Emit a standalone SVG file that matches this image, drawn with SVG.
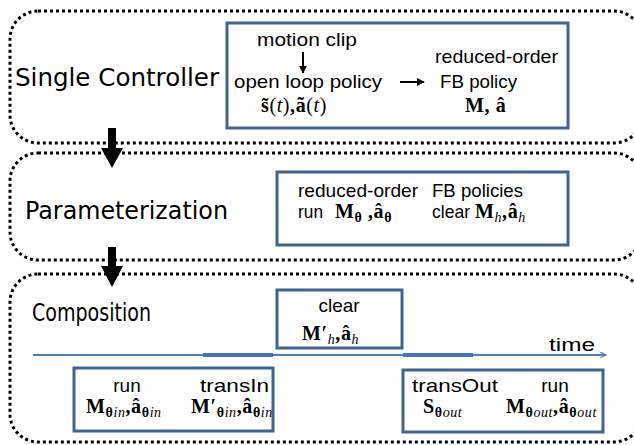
<svg xmlns="http://www.w3.org/2000/svg" width="634" height="445" viewBox="0 0 634 445">
<style>
.panel{fill:none;stroke:#000;stroke-width:3;stroke-dasharray:3 3}
.box{fill:#fff;stroke:#42648F;stroke-width:3}
.big{font-family:"DejaVu Sans",Verdana,sans-serif;font-size:24px;fill:#000}
.t{font-family:"Liberation Sans",Arial,sans-serif;font-size:19px;fill:#000}
.m{font-family:"Liberation Serif","Times New Roman",serif;font-size:20px;font-weight:bold;fill:#000;letter-spacing:0.6px}
.n{font-weight:normal}
.i{font-style:italic;font-weight:normal}
.s{font-size:14px}
.flow{stroke:#000;stroke-width:2;fill:none}
.axis{stroke:#4F7FBF;stroke-width:1.8;fill:none}
.seg{stroke:#4672B0;stroke-width:4}
</style>
<defs>
<marker id="tip" viewBox="0 0 10 10" refX="9" refY="5" markerWidth="4" markerHeight="4" orient="auto">
<path d="M0,0 L10,5 L0,10 Z" fill="#000"/>
</marker>
<marker id="open" viewBox="0 0 10 10" refX="9" refY="5" markerWidth="7" markerHeight="7" orient="auto" markerUnits="userSpaceOnUse">
<path d="M1,1 L9,5 L1,9" fill="none" stroke="#4F7FBF" stroke-width="1.6"/>
</marker>
</defs>

<!-- stage panels -->
<g id="single-controller">
<rect class="panel" x="10" y="11" width="632" height="132" rx="28"/>
<text class="big" x="15" y="86" textLength="204" lengthAdjust="spacingAndGlyphs">Single Controller</text>
</g>
<g id="parameterization">
<rect class="panel" x="10" y="153" width="632" height="107" rx="28"/>
<text class="big" x="25" y="219" textLength="203" lengthAdjust="spacingAndGlyphs">Parameterization</text>
</g>
<g id="composition">
<rect class="panel" x="10" y="274" width="632" height="168" rx="28"/>
<text class="big" x="32" y="321" textLength="119" lengthAdjust="spacingAndGlyphs">Composition</text>
</g>

<!-- arrows between stages -->
<g id="connectors">
<polygon points="108,128 116,128 116,148 123,148 112,168 101,148 108,148" fill="#000"/>
<polygon points="108,247 116,247 116,266 123,266 112,287 101,266 108,266" fill="#000"/>
</g>

<!-- single controller box -->
<g id="controller-box">
<rect class="box" x="227" y="23" width="341" height="105"/>
<text class="t" x="257" y="46" textLength="100" lengthAdjust="spacingAndGlyphs">motion clip</text>
<line class="flow" x1="303" y1="52" x2="303" y2="73" marker-end="url(#tip)"/>
<text class="t" x="234" y="88" textLength="148" lengthAdjust="spacingAndGlyphs">open loop policy</text>
<text class="m" x="261" y="112" letter-spacing="1.5">s̃<tspan class="n">(</tspan><tspan class="i">t</tspan><tspan class="n">)</tspan>,ã<tspan class="n">(</tspan><tspan class="i">t</tspan><tspan class="n">)</tspan></text>
<line class="flow" x1="400" y1="82" x2="424" y2="82" stroke-width="2.5" marker-end="url(#tip)"/>
<text class="t" x="435" y="63" textLength="123" lengthAdjust="spacingAndGlyphs">reduced-order</text>
<text class="t" x="440" y="88" textLength="77" lengthAdjust="spacingAndGlyphs">FB policy</text>
<text class="m" x="465" y="112">M, â</text>
</g>

<!-- parameterized policies box -->
<g id="policies-box">
<rect class="box" x="277" y="172" width="291" height="73"/>
<text class="t" x="298" y="197" textLength="120" lengthAdjust="spacingAndGlyphs">reduced-order</text>
<text class="t" x="432" y="197" textLength="91" lengthAdjust="spacingAndGlyphs">FB policies</text>
<text class="t" x="298" y="218" textLength="25" lengthAdjust="spacingAndGlyphs">run</text>
<text class="m" x="335" y="218">M<tspan class="s" dy="4">θ</tspan><tspan dy="-4"> ,â</tspan><tspan class="s" dy="4">θ</tspan></text>
<text class="t" x="432" y="218" textLength="38" lengthAdjust="spacingAndGlyphs">clear</text>
<text class="m" x="475" y="218">M<tspan class="s i" dy="4">h</tspan><tspan dy="-4">,â</tspan><tspan class="s i" dy="4">h</tspan></text>
</g>

<!-- time axis -->
<g id="timeline">
<line class="axis" x1="33" y1="355" x2="606" y2="355" marker-end="url(#open)"/>
<line class="seg" x1="203" y1="355" x2="273" y2="355"/>
<line class="seg" x1="403" y1="355" x2="473" y2="355"/>
<text class="t" x="549" y="351" textLength="46" lengthAdjust="spacingAndGlyphs">time</text>
</g>

<!-- clear controller -->
<g id="clear-box">
<rect class="box" x="277" y="290" width="125" height="58"/>
<text class="t" x="339" y="312" text-anchor="middle">clear</text>
<text class="m" x="302" y="340">M′<tspan class="s i" dy="4">h</tspan><tspan dy="-4">,â</tspan><tspan class="s i" dy="4">h</tspan></text>
</g>

<!-- run into transition -->
<g id="run-transin-box">
<rect class="box" x="74" y="368" width="199" height="63"/>
<text class="t" x="127" y="392" text-anchor="middle">run</text>
<text class="t" x="200" y="392" textLength="69" lengthAdjust="spacingAndGlyphs">transIn</text>
<text class="m" x="86" y="413">M<tspan class="s" dy="4">θ</tspan><tspan class="s i">in</tspan><tspan dy="-4">,â</tspan><tspan class="s" dy="4">θ</tspan><tspan class="s i">in</tspan></text>
<text class="m" x="191" y="413">M′<tspan class="s" dy="4">θ</tspan><tspan class="s i">in</tspan><tspan dy="-4">,â</tspan><tspan class="s" dy="4">θ</tspan><tspan class="s i">in</tspan></text>
</g>

<!-- transition out into run -->
<g id="transout-run-box">
<rect class="box" x="403" y="370" width="200" height="62"/>
<text class="t" x="412" y="392" textLength="86" lengthAdjust="spacingAndGlyphs">transOut</text>
<text class="t" x="555" y="392" text-anchor="middle">run</text>
<text class="m" x="423" y="413">S<tspan class="s" dy="4">θ</tspan><tspan class="s i">out</tspan></text>
<text class="m" x="506" y="413">M<tspan class="s" dy="4">θ</tspan><tspan class="s i">out</tspan><tspan dy="-4">,â</tspan><tspan class="s" dy="4">θ</tspan><tspan class="s i">out</tspan></text>
</g>
</svg>
